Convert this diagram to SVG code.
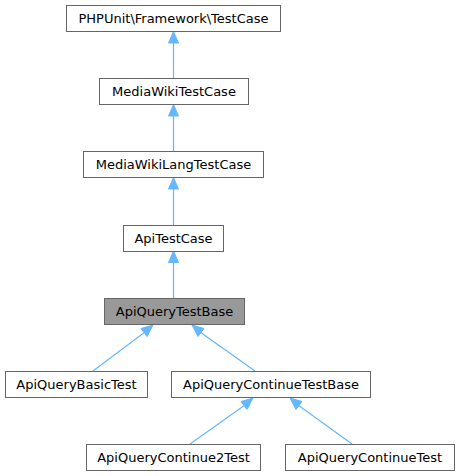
<svg xmlns="http://www.w3.org/2000/svg" width="457" height="476" viewBox="0 0 457 476">
<style>
.n rect{fill:#ffffff;stroke:#666666;stroke-width:1}
.n.h rect{fill:#999999}
.n text{font-family:"DejaVu Sans",sans-serif;font-size:13px;fill:#000000;text-anchor:middle}
.e line{stroke:#63b8ff;stroke-width:1.2}
.e polygon{fill:#63b8ff;stroke:#63b8ff}
</style>
<rect width="457" height="476" fill="#ffffff"/>
<g class="e" id="edges">
<line x1="173.5" y1="78" x2="173.5" y2="42"/><polygon points="173.5,31.5 168.5,43 178.5,43"/>
<line x1="173.5" y1="152" x2="173.5" y2="115"/><polygon points="173.5,104.5 168.5,116 178.5,116"/>
<line x1="173.5" y1="225" x2="173.5" y2="189"/><polygon points="173.5,177.5 168.5,189 178.5,189"/>
<line x1="173.5" y1="298" x2="173.5" y2="262"/><polygon points="173.5,251 168.5,262.5 178.5,262.5"/>
<line x1="93" y1="371" x2="145" y2="332"/><polygon points="153,325 141,328.5 147,336.5"/>
<line x1="255" y1="371" x2="200" y2="332"/><polygon points="192,325 198,336.5 204,328.5"/>
<line x1="190" y1="444" x2="245" y2="405"/><polygon points="253,398 241,401.5 247,409.5"/>
<line x1="352" y1="444" x2="298" y2="405"/><polygon points="290,398 296,409.5 302,401.5"/>
</g>
<g class="n" id="node1"><rect x="66.5" y="5.5" width="214" height="26"/><text x="173.5" y="22.5">PHPUnit\Framework\TestCase</text></g>
<g class="n" id="node2"><rect x="99.5" y="78.5" width="149" height="26"/><text x="174" y="95.5">MediaWikiTestCase</text></g>
<g class="n" id="node3"><rect x="83.5" y="151.5" width="180" height="26"/><text x="173.5" y="168.5">MediaWikiLangTestCase</text></g>
<g class="n" id="node4"><rect x="123.5" y="225.5" width="100" height="26"/><text x="173.5" y="242.5">ApiTestCase</text></g>
<g class="n h" id="node5"><rect x="104.5" y="298.5" width="140" height="26"/><text x="174.5" y="315.5">ApiQueryTestBase</text></g>
<g class="n" id="node6"><rect x="5.5" y="371.5" width="142" height="26"/><text x="76.5" y="388.5">ApiQueryBasicTest</text></g>
<g class="n" id="node7"><rect x="171.5" y="371.5" width="199" height="26"/><text x="271" y="388.5">ApiQueryContinueTestBase</text></g>
<g class="n" id="node8"><rect x="86.5" y="444.5" width="174" height="26"/><text x="173.5" y="461.5">ApiQueryContinue2Test</text></g>
<g class="n" id="node9"><rect x="285.5" y="444.5" width="169" height="26"/><text x="370" y="461.5">ApiQueryContinueTest</text></g>
</svg>
